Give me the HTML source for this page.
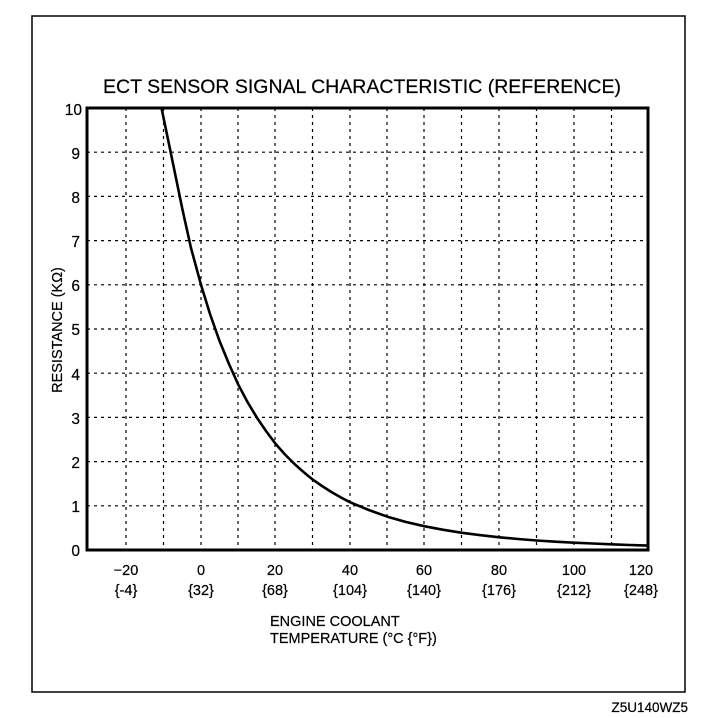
<!DOCTYPE html>
<html><head><meta charset="utf-8"><style>
html,body{margin:0;padding:0;background:#fff;}
svg{display:block;}
text{font-family:"Liberation Sans",sans-serif;fill:#000;}
</style></head><body>
<svg width="704" height="718" viewBox="0 0 704 718">
<rect x="32" y="16" width="653" height="676" fill="none" stroke="#000" stroke-width="1.5"/>
<text x="362" y="93" font-size="19.5" text-anchor="middle" stroke="#000" stroke-width="0.2">ECT SENSOR SIGNAL CHARACTERISTIC (REFERENCE)</text>
<g stroke="#000" stroke-width="1.2" stroke-dasharray="3,4">
<line x1="126" y1="108" x2="126" y2="550"/><line x1="163.5" y1="108" x2="163.5" y2="550"/>
<line x1="201" y1="108" x2="201" y2="550"/><line x1="238" y1="108" x2="238" y2="550"/>
<line x1="275" y1="108" x2="275" y2="550"/><line x1="312.5" y1="108" x2="312.5" y2="550"/>
<line x1="350" y1="108" x2="350" y2="550"/><line x1="387" y1="108" x2="387" y2="550"/>
<line x1="424" y1="108" x2="424" y2="550"/><line x1="461.5" y1="108" x2="461.5" y2="550"/>
<line x1="499" y1="108" x2="499" y2="550"/><line x1="536.5" y1="108" x2="536.5" y2="550"/>
<line x1="574" y1="108" x2="574" y2="550"/><line x1="611.5" y1="108" x2="611.5" y2="550"/>
<line x1="87" y1="152.2" x2="648" y2="152.2"/><line x1="87" y1="196.4" x2="648" y2="196.4"/>
<line x1="87" y1="240.6" x2="648" y2="240.6"/><line x1="87" y1="284.8" x2="648" y2="284.8"/>
<line x1="87" y1="329" x2="648" y2="329"/><line x1="87" y1="373.2" x2="648" y2="373.2"/>
<line x1="87" y1="417.4" x2="648" y2="417.4"/><line x1="87" y1="461.6" x2="648" y2="461.6"/>
<line x1="87" y1="505.8" x2="648" y2="505.8"/>
</g>
<rect x="87" y="108" width="561" height="442" fill="none" stroke="#000" stroke-width="3"/>
<polyline points="161.5,108 170,149 182.4,209.2 191,248 201,284.8 210,314 219.7,341.4 229,364 238.3,384.7 247.5,402 257,417.8 266,431 275.6,443.9 285,454.5 294.3,463.8 303.5,472 312.9,479.7 322,486 331.6,492.1 341,497.5 350.2,502.3 368.8,510 387.5,516.7 406,522 424.8,526.3 443.4,529.8 462.1,532.8 480.7,535.2 499.4,537.3 518,539 536.7,540.5 555.3,541.7 574,542.7 592.6,543.5 611.3,544.3 629.6,545 648,545.6" fill="none" stroke="#000" stroke-width="2.6" stroke-linejoin="round"/>
<g font-size="15.5" text-anchor="end" stroke="#000" stroke-width="0.2">
<text x="82" y="115">10</text><text x="80" y="159">9</text><text x="80" y="203">8</text>
<text x="80" y="247">7</text><text x="80" y="291">6</text><text x="80" y="335">5</text>
<text x="80" y="380">4</text><text x="80" y="424">3</text><text x="80" y="468">2</text>
<text x="80" y="512">1</text><text x="80" y="556">0</text>
</g>
<g font-size="14.5" text-anchor="middle" stroke="#000" stroke-width="0.2">
<text x="126" y="575">−20</text><text x="201" y="575">0</text><text x="275" y="575">20</text>
<text x="350" y="575">40</text><text x="424" y="575">60</text><text x="499" y="575">80</text>
<text x="574" y="575">100</text><text x="641" y="575">120</text>
<text x="126" y="595">{-4}</text><text x="201" y="595">{32}</text><text x="275" y="595">{68}</text>
<text x="350" y="595">{104}</text><text x="424" y="595">{140}</text><text x="499" y="595">{176}</text>
<text x="574" y="595">{212}</text><text x="641" y="595">{248}</text>
</g>
<text transform="translate(62,330) rotate(-90)" font-size="14.5" text-anchor="middle" stroke="#000" stroke-width="0.2">RESISTANCE (KΩ)</text>
<text x="270" y="626" font-size="14.5" stroke="#000" stroke-width="0.2">ENGINE COOLANT</text>
<text x="270" y="643" font-size="14.5" stroke="#000" stroke-width="0.2">TEMPERATURE  (°C {°F})</text>
<text x="688" y="712" font-size="13.5" text-anchor="end" stroke="#000" stroke-width="0.2">Z5U140WZ5</text>
</svg>
</body></html>
